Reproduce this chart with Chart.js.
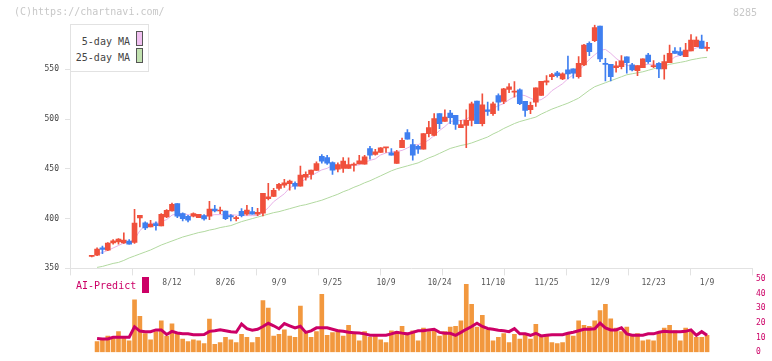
<!DOCTYPE html>
<html>
<head>
<meta charset="utf-8">
<script src="https://cdn.jsdelivr.net/npm/chart.js@4/dist/chart.umd.min.js"></script>
<style>
body { margin: 0; background: #fff; width: 772px; height: 361px; overflow: hidden; position: relative; font-family: "DejaVu Sans Mono", monospace; }
canvas { position: absolute; left: 0; }
#vol { top: 270px; }
#price { top: 0; }
.t { position: absolute; white-space: nowrap; line-height: 1; }
.sw { position: absolute; width: 5px; height: 13px; border: 1px solid #555; }
</style>
</head>
<body>
<canvas id="vol" width="772" height="91"></canvas>
<canvas id="price" width="772" height="291"></canvas>

<div class="t" style="left:14px;top:7px;font-size:10px;color:#c8c8c8">(C)https://chartnavi.com/</div>
<div class="t" style="left:733px;top:8px;font-size:10px;color:#c8c8c8">8285</div>

<div style="position:absolute;left:70px;top:24px;width:77px;height:46px;border:1px solid #e2e2e2;background:#fff">
	<div class="t" style="right:18px;top:12px;font-size:10px;color:#444">5-day MA</div>
	<div class="sw" style="left:65px;top:6px;background:#f0c0f0"></div>
	<div class="t" style="right:18px;top:28px;font-size:10px;color:#444">25-day MA</div>
	<div class="sw" style="left:65px;top:23px;background:#c2e2b0"></div>
</div>

<div class="t" style="left:76px;top:281px;font-size:10px;color:#cc0066">AI-Predict</div>
<div style="position:absolute;left:142px;top:277px;width:7px;height:16px;background:#cc0066"></div>

<script>
// candles, one per trading day (index 0 .. 115)
const open = [
	362, 363.4, 370.7, 368.4, 375.7, 376.7, 375.7, 377.4, 376, 400.7,
	395.7, 391.7, 395, 392.7, 401.7, 407.7, 415, 405, 402.4, 402.4,
	401, 403, 402.4, 409.7, 407.7, 407.7, 403, 400, 407.4, 404.4,
	407, 404.4, 405.4, 420, 422.4, 430.4, 433.7, 435, 435.4, 432.7,
	441.7, 444.4, 448.4, 462.7, 461.4, 456.4, 449.7, 450.4, 450.4, 453.7,
	455, 454.7, 470.4, 464.4, 466.4, 471, 466, 455.4, 471.4, 486.4,
	474.4, 472.7, 469.7, 485.4, 483.7, 505.4, 497.7, 506, 503.7, 491.4,
	493.7, 498.7, 518, 495.4, 509.4, 505.4, 523.7, 517.7, 529.7, 527,
	529.4, 517.7, 509.4, 517, 523.7, 537, 542.7, 546.4, 540.4, 549.4,
	550.4, 542.7, 554.4, 576, 578.7, 593.4, 555.5, 555, 551.7, 552.7,
	562.4, 554.4, 548.7, 551.7, 564.4, 552.7, 556, 550.4, 556.7, 568.4,
	567.7, 562.7, 568.4, 572.7, 578.4, 571
];
const high = [
	362.5, 370.7, 372.4, 376, 379, 380, 385.7, 379, 409.4, 403.4,
	396.7, 398.4, 396.7, 405, 409, 415.7, 415, 405.7, 403.4, 405.7,
	404.4, 404, 417.4, 413.4, 411.7, 407.7, 404, 402.4, 410, 413.4,
	411.4, 410.4, 425.4, 435.4, 430.4, 435.4, 439.4, 438.7, 437, 452.7,
	447, 448.7, 457, 464.4, 463.7, 457, 456, 461.4, 461, 456,
	463.7, 463.7, 472.7, 469.7, 471.4, 471, 470.4, 468.7, 481, 489.4,
	479.7, 473.7, 485.4, 497.7, 505.4, 505.4, 509.4, 508.7, 503.7, 498.7,
	509.4, 517, 518, 525.4, 517, 517, 525.4, 531, 535.7, 537.7,
	530.4, 517.7, 517, 531.4, 538, 543.7, 546, 548, 546.4, 563.4,
	550.4, 562.7, 575, 577.7, 594.4, 593.4, 561, 555, 557.7, 563.7,
	562.4, 556, 553.7, 560.4, 566, 558.7, 556.7, 564.4, 574.4, 571.7,
	571.7, 576, 585, 582.7, 584.4, 577
];
const low = [
	361.5, 362.7, 364.7, 367.7, 374.4, 374.4, 375, 374.4, 375, 391.7,
	389, 391.7, 388.4, 392.7, 401, 407.4, 401, 397.7, 396.7, 401.7,
	401, 398.4, 399, 406.7, 405, 399, 397.7, 397.7, 401.7, 403.4,
	404.4, 403, 402.7, 418.7, 422, 428.7, 431.4, 428.7, 429.7, 432.7,
	438.7, 439.7, 448.4, 455.7, 454.4, 444.4, 447, 446.4, 450.4, 447.7,
	455, 454.7, 459.7, 463.7, 466.4, 466.4, 463.7, 455.4, 471.4, 479.7,
	458.7, 465.4, 469.7, 482, 483, 490.4, 497.7, 495.4, 489.7, 491.4,
	471.4, 493, 495.4, 493, 503.7, 503.7, 508.7, 515.4, 526.4, 522,
	514.4, 502.7, 505.4, 512.7, 523.7, 534.4, 539.7, 542, 539.7, 540.4,
	541, 541, 553.7, 563.7, 577.7, 557.7, 538.4, 538.4, 547, 550.4,
	546, 548.4, 543.7, 551.7, 556, 551.7, 541.7, 540, 556.7, 566,
	563.7, 562.7, 568.4, 572.7, 571, 568.4
];
const close = [
	362, 369.4, 369, 375.4, 377.7, 379.4, 378.4, 374.4, 395.4, 403.4,
	390.7, 394.4, 393, 404.4, 408.4, 414.4, 402.4, 400, 398.4, 405,
	404.4, 399.7, 409.7, 407.7, 408, 400, 401.7, 400.3, 403, 408.7,
	404.4, 406.4, 425.4, 422, 428.4, 434.4, 436, 437.7, 432.7, 443.7,
	444.4, 448.7, 455.4, 457.7, 455.7, 448.7, 454.4, 457.7, 454.4, 454,
	458, 462, 463.7, 467, 471, 471.3, 463.7, 467, 478.7, 479.7,
	463.7, 469.7, 485.4, 491.4, 500.4, 495.4, 502, 501.4, 494.7, 494.4,
	498.7, 515.4, 495.4, 514.4, 507.7, 515.4, 517, 530.4, 532.4, 527.3,
	515.4, 508.7, 513.7, 531.4, 538, 538.4, 544.7, 543.7, 545.4, 545.4,
	546, 556, 574.4, 567.7, 592, 560.4, 555, 542.7, 553.4, 558.4,
	556.7, 549.4, 553.7, 560.4, 557.7, 553.4, 550.4, 557.7, 566, 566,
	564.4, 569.4, 579.4, 579.4, 571, 571.3
];

const ma5 = [
	null, 364.5, 366, 368, 370.5, 373, 375.5, 376.5, 379, 388,
	393, 395, 396, 397, 399, 403.5, 405, 405, 404, 403,
	402.5, 402.5, 403, 404, 404, 404, 404, 403.5, 403, 403,
	403, 403, 406, 411, 417, 421, 425, 431, 433.5, 436,
	440, 443, 446, 449, 450.5, 453.5, 453.5, 453, 453, 453.5,
	454, 456.5, 458.5, 460, 464, 466, 467, 467.5, 468.5, 471,
	473.5, 474.5, 476, 479, 483.5, 488.5, 492.5, 497.5, 498.5, 498.5,
	500, 503, 505.5, 507, 508, 510.5, 513.5, 515.5, 519.5, 522.5,
	524.5, 523.5, 521, 518.5, 519.5, 523, 528.5, 532, 535.5, 540.5,
	544.5, 548.5, 554, 560, 564.5, 569, 570, 566, 561, 557,
	554, 553, 553, 554.5, 555, 555, 554.5, 555.5, 558, 562.5,
	564, 565.5, 569, 571.5, 573, 573
];
const ma25 = [
	null, 351, 352, 353.5, 355, 356, 358, 360.5, 362.5, 364.5,
	366.5, 368.5, 371, 373.5, 375.5, 377.5, 379.5, 381.5, 383, 384.5,
	386, 387, 388.5, 389.5, 391, 392, 393, 395, 397, 398.5,
	400, 401.5, 403, 404.5, 406, 407, 408.5, 410, 411.5, 413,
	414, 415.5, 417, 418.5, 420.5, 422.5, 424.5, 427, 429, 431.5,
	433.5, 436, 438, 440.5, 443, 445.5, 448, 450, 451.5, 453,
	454.5, 456, 458.5, 461, 463, 465.5, 468, 470.5, 472, 473.5,
	474.5, 476, 478, 480, 482, 485, 487.5, 490.5, 493, 495.5,
	497.5, 499, 500.5, 502, 505, 507.5, 510, 512, 514, 516,
	518.5, 521, 525, 529, 532.5, 534.5, 536.5, 538.5, 540.5, 542.5,
	544.5, 545.5, 546.5, 547.5, 549, 550.5, 552, 553.5, 555, 556,
	557, 558, 559.5, 560.5, 561.5, 562
];

// lower panel (0..50 scale), starts on day 1
const volume = [
	null, 7.3, 8.4, 10.9, 10, 14, 9.4, 7.8, 35.7, 24.5,
	12.7, 8.4, 14, 21.4, 10.9, 19.4, 13.1, 9, 7.3, 8.4,
	7.8, 5.9, 22.5, 5.3, 6.5, 10.2, 8.4, 6.5, 12.1, 10.2,
	6.5, 10.2, 35.1, 30.1, 10.9, 12.1, 15.2, 10.9, 10.2, 31.4,
	13.4, 10.2, 14, 39.4, 11.5, 13.4, 15.2, 10.9, 18.3, 12.1,
	7.8, 14, 10.2, 12.1, 8.4, 6.5, 14.6, 14, 17.7, 11.5,
	14.6, 7.8, 16.5, 14, 14.6, 10.9, 14, 17.1, 17.7, 21.4,
	46.3, 32.6, 17.1, 25.2, 15.2, 7.8, 10.2, 12.7, 6.5, 12.1,
	9, 11.5, 9, 18.9, 10.9, 11.5, 6.5, 5.9, 6.5, 12.1,
	10.9, 21.4, 18.3, 17.7, 21.4, 28.3, 32.6, 22.7, 16.5, 14,
	17.1, 10.9, 12.7, 7.8, 8.4, 7.8, 13.4, 16.5, 18.3, 14.6,
	7.8, 16.5, 14, 10.2, 10.2, 11.5
];
const aiPredict = [
	null, 9.4, 9, 9, 10.2, 10.2, 10.2, 10.2, 17.3, 14.4,
	14, 14, 15.2, 15.2, 12.1, 14.2, 13.1, 12.5, 12.5, 11.9,
	11.9, 12.1, 14.2, 14.6, 15.2, 14.6, 13.9, 13.6, 19.2, 16,
	15, 15.6, 17.5, 19.7, 18, 16, 19.5, 18, 16.5, 17.7,
	13.5, 14.5, 16.6, 16.6, 16.6, 15.6, 14.6, 14.2, 13.6, 13.3,
	13, 12.5, 11.5, 11.5, 11.5, 11.5, 12.5, 13.6, 13, 12.5,
	13.5, 14.6, 14.6, 15.2, 15.6, 13.5, 12.9, 12.9, 11.5, 13.5,
	15.6, 17.5, 19.7, 17.5, 16.2, 15.6, 15, 14.6, 14, 16,
	12.5, 12.5, 11.5, 12.9, 11.1, 11.5, 11.9, 11.9, 11.9, 12.9,
	13.6, 14.6, 15.6, 15.6, 16, 19.8, 16.5, 15.2, 15.2, 16.6,
	12.5, 11.5, 11.5, 11.5, 12.5, 12.5, 13.6, 14.2, 13.9, 13.9,
	13.9, 14.2, 15.2, 11.5, 14, 11.5
];

const dateLabels = ['8/12', '8/26', '9/9', '9/25', '10/9', '10/24', '11/10', '11/25', '12/9', '12/23', '1/9'];
const dateIdx = [15, 25, 35, 45, 55, 65, 75, 85, 95, 105, 115];

const UP = '#f0503c';
const DOWN = '#3f7ff0';
const FONT = 'DejaVu Sans Mono';
const X_MIN = -4.06, X_MAX = 123.4;

const candleColors = open.map((o, i) => close[i] >= o ? UP : DOWN);

new Chart(document.getElementById('price'), {
	type: 'bar',
	data: {
		datasets: [
			{
				label: 'body',
				data: open.map((o, i) => ({x: i, y: [o, close[i]]})),
				backgroundColor: candleColors,
				barThickness: 5,
				minBarLength: 1,
				grouped: false,
				order: 0,
			},
			{
				label: 'wick',
				data: low.map((l, i) => ({x: i, y: [l, high[i]]})),
				backgroundColor: candleColors,
				barThickness: 1,
				grouped: false,
				order: 1,
			},
			{
				type: 'line',
				label: '5-day MA',
				data: ma5.map((v, i) => ({x: i, y: v})),
				borderColor: '#e8b2e8',
				borderWidth: 1,
				pointRadius: 0,
				order: 2,
			},
			{
				type: 'line',
				label: '25-day MA',
				data: ma25.map((v, i) => ({x: i, y: v})),
				borderColor: '#b2d9a0',
				borderWidth: 1,
				pointRadius: 0,
				order: 3,
			},
		]
	},
	options: {
		responsive: false,
		animation: false,
		devicePixelRatio: 1,
		layout: {padding: {left: 0, right: 20, top: 24.5, bottom: 0}},
		plugins: {legend: {display: false}, tooltip: {enabled: false}},
		scales: {
			x: {
				type: 'linear', min: X_MIN, max: X_MAX, position: 'bottom', weight: 1, offset: false,
				grid: {display: false, drawTicks: false, offset: false},
				border: {display: false},
				afterBuildTicks: (s) => { s.ticks = dateIdx.map(v => ({value: v})); },
				ticks: {
					autoSkip: false, maxRotation: 0, padding: 3, color: '#555',
					font: {family: FONT, size: 8},
					callback: (v) => {
						const k = dateIdx.indexOf(v);
						return k >= 0 ? dateLabels[k] : '';
					},
				},
			},
			xt: {
				type: 'linear', min: 0, max: 11, position: 'bottom', weight: 0, offset: false,
				ticks: {display: false, stepSize: 1},
				grid: {drawOnChartArea: false, tickLength: 7, color: '#e2e2e2', offset: false},
				border: {color: '#e2e2e2'},
			},
			y: {
				min: 350, max: 595, position: 'left',
				afterFit: (s) => { s.width = 70; },
				ticks: {stepSize: 50, includeBounds: false, padding: 6, color: '#444', font: {family: FONT, size: 8}},
				grid: {drawOnChartArea: false, tickLength: 5, color: '#e2e2e2'},
				border: {color: '#e2e2e2'},
			},
		},
	},
});

new Chart(document.getElementById('vol'), {
	type: 'bar',
	data: {
		datasets: [
			{
				type: 'line',
				label: 'AI-Predict',
				data: aiPredict.map((v, i) => ({x: i, y: v})),
				borderColor: '#cc0066',
				borderWidth: 3,
				pointRadius: 0,
				order: 0,
			},
			{
				label: 'volume',
				data: volume.map((v, i) => ({x: i, y: v})),
				backgroundColor: '#f2983e',
				barThickness: 4,
				order: 1,
			},
		]
	},
	options: {
		responsive: false,
		animation: false,
		devicePixelRatio: 1,
		layout: {padding: {left: 70, right: 0, top: 8, bottom: 2.5}},
		plugins: {legend: {display: false}, tooltip: {enabled: false}},
		scales: {
			x: {type: 'linear', min: X_MIN, max: X_MAX, display: false, offset: false, grid: {offset: false}},
			y: {
				position: 'right', min: 0, max: 50,
				afterFit: (s) => { s.width = 20; },
				ticks: {stepSize: 10, padding: 4, color: '#cc0066', font: {family: FONT, size: 8}},
				grid: {display: false, drawTicks: false},
				border: {display: false},
			},
		},
	},
});
</script>
</body>
</html>
